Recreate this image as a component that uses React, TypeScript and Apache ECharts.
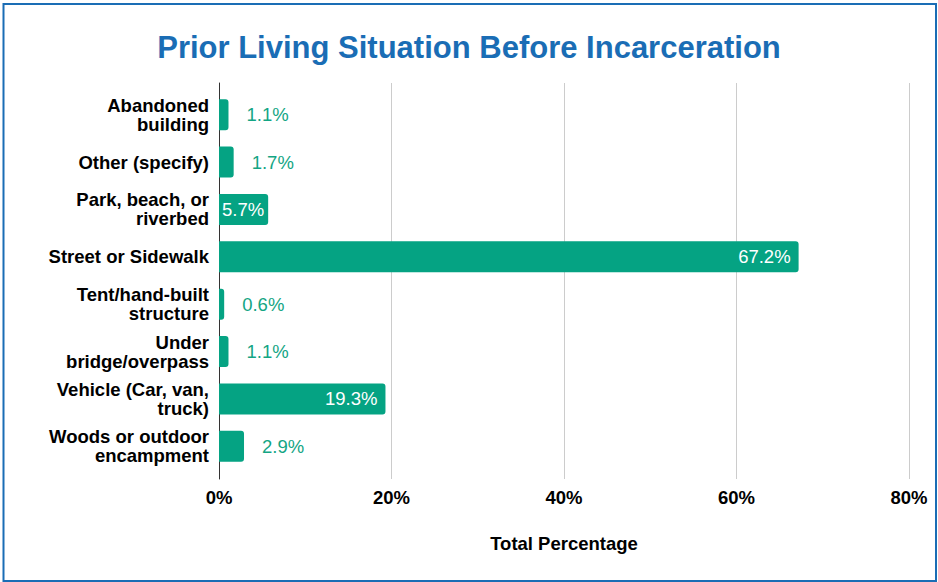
import React, { useEffect, useRef } from "react";
import * as echarts from "echarts";

const categories = [
  "Abandoned\nbuilding",
  "Other (specify)",
  "Park, beach, or\nriverbed",
  "Street or Sidewalk",
  "Tent/hand-built\nstructure",
  "Under\nbridge/overpass",
  "Vehicle (Car, van,\ntruck)",
  "Woods or outdoor\nencampment",
];
const values = [1.1, 1.7, 5.7, 67.2, 0.6, 1.1, 19.3, 2.9];
const insideLabel = [false, false, true, true, false, false, true, false];
const xTicks = [0, 20, 40, 60, 80];

const FONT = "Arial, 'Liberation Sans', Helvetica, sans-serif";
const BAR = "#05a383";
const BLUE = "#1a6db5";
const FS = 18.5;

export default function App() {
  const ref = useRef<HTMLDivElement>(null);
  useEffect(() => {
    if (!ref.current) return;
    const chart = echarts.init(ref.current, null, { renderer: "svg" });
    const data = values.map((v, i) => ({
      value: v,
      label: insideLabel[i]
        ? {
            position: "insideRight",
            distance: v < 10 ? 4 : 8,
            color: "#ffffff",
          }
        : { position: "right", distance: 18, color: "#13a584" },
    }));
    chart.setOption({
      animation: false,
      backgroundColor: "#ffffff",
      title: {
        text: "Prior Living Situation Before Incarceration",
        left: "center",
        top: 27,
        textStyle: {
          color: BLUE,
          fontSize: 31,
          fontWeight: "bold",
          fontFamily: FONT,
        },
      },
      graphic: [
        {
          type: "rect",
          shape: { x: 3.5, y: 4, width: 932.5, height: 577 },
          style: { fill: "none", stroke: BLUE, lineWidth: 2 },
          silent: true,
        },
      ],
      grid: [
        { left: 219, right: 29, top: 83, bottom: 103, containLabel: false },
        { left: 219, right: 29, top: 91, bottom: 112, containLabel: false },
      ],
      xAxis: [
        {
          type: "value",
          gridIndex: 0,
          min: xTicks[0],
          max: xTicks[xTicks.length - 1],
          interval: 20,
          axisLine: { show: false },
          axisTick: { show: false },
          splitLine: { show: true, lineStyle: { color: "#cccccc", width: 1 } },
          axisLabel: {
            formatter: "{value}%",
            color: "#000000",
            fontWeight: "bold",
            fontSize: FS,
            fontFamily: FONT,
            margin: 9,
          },
          name: "Total Percentage",
          nameLocation: "middle",
          nameGap: 55,
          nameTextStyle: {
            color: "#000000",
            fontWeight: "bold",
            fontSize: FS,
            fontFamily: FONT,
          },
        },
        {
          type: "value",
          gridIndex: 1,
          min: xTicks[0],
          max: xTicks[xTicks.length - 1],
          show: false,
        },
      ],
      yAxis: [
        {
          type: "value",
          gridIndex: 0,
          min: 0,
          max: 1,
          axisLine: { show: true, onZero: false, lineStyle: { color: "#333333", width: 1 } },
          axisTick: { show: false },
          axisLabel: { show: false },
          splitLine: { show: false },
        },
        {
          type: "category",
          gridIndex: 1,
          data: categories,
          inverse: true,
          axisLine: { show: false },
          axisTick: { show: false },
          splitLine: { show: false },
          axisLabel: {
            color: "#000000",
            fontWeight: "bold",
            fontSize: FS,
            lineHeight: 19,
            fontFamily: FONT,
            margin: 10,
            align: "right",
          },
        },
      ],
      series: [
        {
          type: "bar",
          xAxisIndex: 1,
          yAxisIndex: 1,
          data,
          barWidth: 31,
          itemStyle: { color: BAR, borderRadius: [0, 3, 3, 0] },
          label: {
            show: true,
            formatter: (p: any) => p.value.toFixed(1) + "%",
            fontSize: FS,
            fontFamily: FONT,
          },
        },
      ],
    });
    return () => chart.dispose();
  }, []);
  return (
    <div style={{ position: "fixed", left: 0, top: 0, width: 938, height: 582, background: "#fff" }}>
      <div ref={ref} style={{ width: 938, height: 582 }} />
    </div>
  );
}
